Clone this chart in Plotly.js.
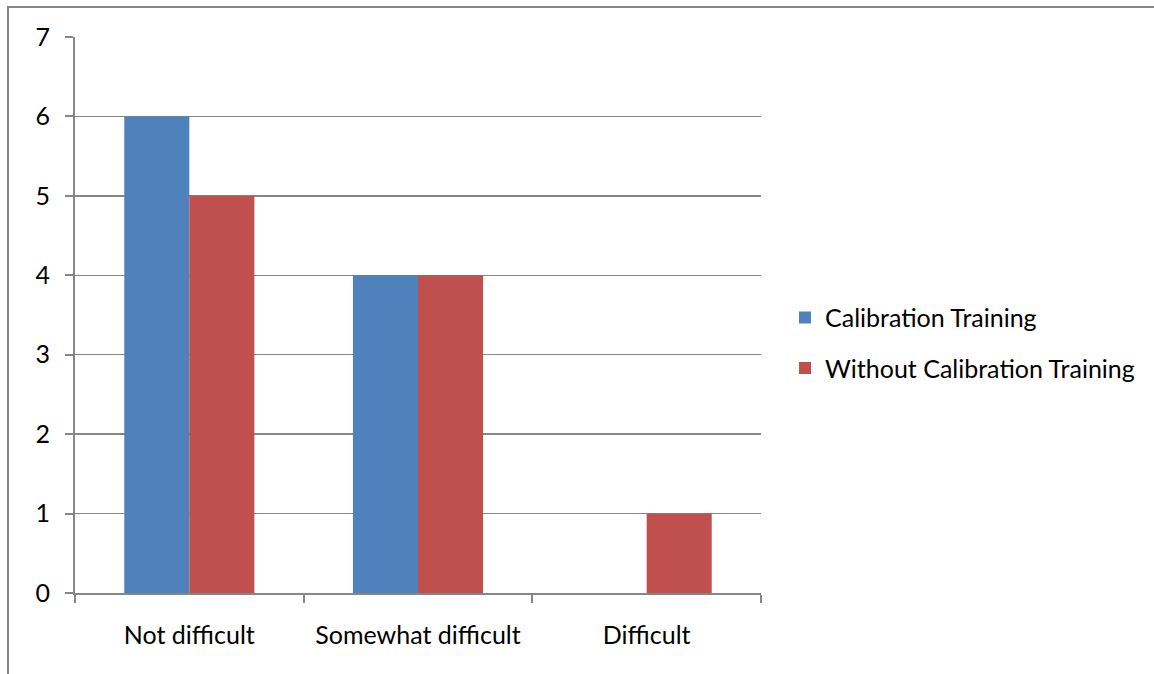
<!DOCTYPE html>
<html>
<head>
<meta charset="utf-8">
<script src="https://cdn.plot.ly/plotly-3.0.1.min.js"></script>
<style>
  html, body { margin: 0; padding: 0; background: #ffffff; }
  #chart { width: 1154px; height: 674px; }
</style>
</head>
<body>
<div id="chart"></div>
<script>
const categories = ["Not difficult", "Somewhat difficult", "Difficult"];
const seriesNames = ["Calibration Training", "Without Calibration Training"];
const calibrationTraining = [6, 4, 0];
const withoutCalibrationTraining = [5, 4, 1];
const yTickValues = [0, 1, 2, 3, 4, 5, 6, 7];

const FONT = "Lato, 'Open Sans', sans-serif";
const GRID = "#868686";

const traces = [
  {
    type: "bar", name: seriesNames[0], x: categories, y: calibrationTraining,
    marker: { color: "#4F81BD" }, legendgroup: "a", hoverinfo: "x+y+name"
  },
  {
    type: "bar", name: seriesNames[1], x: categories, y: withoutCalibrationTraining,
    marker: { color: "#C0504D" }, legendgroup: "b", hoverinfo: "x+y+name"
  }
];

const layout = {
  width: 1154, height: 674,
  margin: { l: 75, r: 393, t: 37, b: 81, pad: 0 },
  paper_bgcolor: "#ffffff", plot_bgcolor: "#ffffff",
  font: { family: FONT, size: 25, color: "#000000" },
  barmode: "group", bargap: 0.431, bargroupgap: 0,
  showlegend: true,
  legend: {
    x: 1.035, xanchor: "left", y: 0.45, yanchor: "middle",
    traceorder: "grouped", tracegroupgap: 15,
    font: { family: FONT, size: 25, color: "#000000" },
    itemwidth: 30, bgcolor: "rgba(0,0,0,0)"
  },
  xaxis: {
    type: "category", showline: true, linecolor: GRID, linewidth: 2,
    ticks: "outside", tickson: "boundaries", ticklen: 8, tickcolor: GRID, tickwidth: 2,
    ticklabelstandoff: 19, showgrid: false, zeroline: false, fixedrange: true,
    tickfont: { family: FONT, size: 25, color: "#000000" }
  },
  yaxis: {
    range: [0, 7], tickmode: "array", tickvals: yTickValues, ticktext: yTickValues.map(String),
    showline: true, linecolor: GRID, linewidth: 2,
    ticks: "outside", ticklen: 8, tickcolor: GRID, tickwidth: 2,
    ticklabelstandoff: 10,
    showgrid: true, gridcolor: GRID, gridwidth: 1.5, zeroline: false, fixedrange: true,
    tickfont: { family: FONT, size: 25, color: "#000000" }
  },
  shapes: [
    {
      type: "path", xref: "paper", yref: "paper",
      path: "M -0.0977,-0.3 L -0.0977,1.0540 L 1.7,1.0540",
      line: { color: GRID, width: 2 }
    }
  ]
};

Plotly.newPlot("chart", traces, layout, { displayModeBar: false, staticPlot: true });
</script>
</body>
</html>
